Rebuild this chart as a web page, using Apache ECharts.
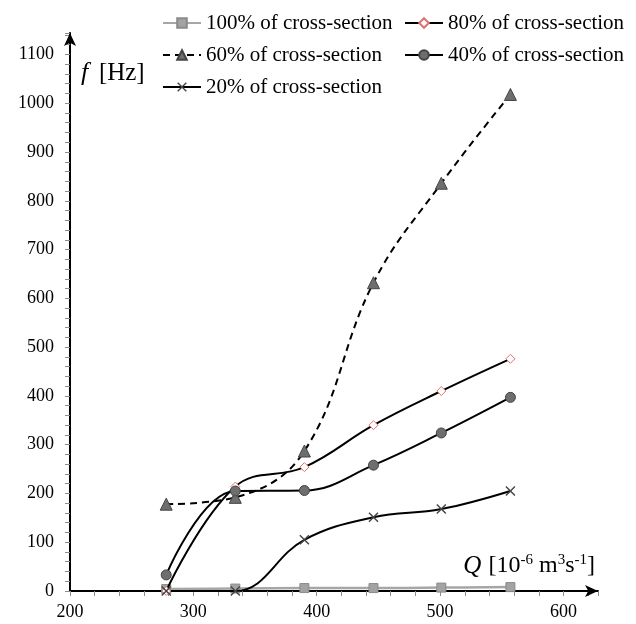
<!DOCTYPE html>
<html>
<head>
<meta charset="utf-8">
<script src="https://cdn.jsdelivr.net/npm/echarts@6/dist/echarts.min.js"></script>
<style>html,body{margin:0;padding:0;background:#fff;}#c{width:636px;height:624px;}</style>
</head>
<body>
<div id="c"></div>
<script>
const flowQ = [278, 334, 390, 446, 501, 557];
const f100 = [4, 5, 6, 6, 7, 8];
const f80 = [0, 214, 254, 340, 410, 476];
const f60 = [178, 192, 287, 632, 836, 1018];
const f40 = [33, 205, 206, 258, 324, 397];
const f20 = [0, 0, 105, 151, 168, 205];
const seriesNames = ['100% of cross-section', '80% of cross-section', '60% of cross-section', '40% of cross-section', '20% of cross-section'];

const pairs = arr => flowQ.map((q, i) => [q, arr[i]]);
const serif = 'Liberation Serif';
const xPath = 'path://M0,1 L1,0 L5,4 L9,0 L10,1 L6,5 L10,9 L9,10 L5,6 L1,10 L0,9 L4,5 Z';
const SM = 0.4;

const chart = echarts.init(document.getElementById('c'), null, {renderer: 'canvas'});
const legendBase = {
  orient: 'horizontal', padding: 0, itemWidth: 38, itemHeight: 12,
  textStyle: {fontFamily: serif, fontSize: 21, color: '#000', lineHeight: 24}
};
const axisCommon = {
  axisLine: {show: true, lineStyle: {color: '#000', width: 2}, symbol: ['none', 'arrow'], symbolSize: [9, 13]},
  axisTick: {show: true, inside: false, length: 5, lineStyle: {color: '#8c8c8c', width: 1}},
  minorTick: {show: true, splitNumber: 5, length: 5, lineStyle: {color: '#8c8c8c', width: 1}},
  splitLine: {show: false},
  minorSplitLine: {show: false}
};
chart.setOption({
  animation: false,
  backgroundColor: '#fff',
  grid: {left: 70, right: 38, top: 33, bottom: 33, containLabel: false},
  legend: [
    Object.assign({}, legendBase, {data: [seriesNames[0]], left: 162, top: 11}),
    Object.assign({}, legendBase, {data: [seriesNames[1]], left: 404, top: 11}),
    Object.assign({}, legendBase, {data: [seriesNames[2]], left: 162, top: 43}),
    Object.assign({}, legendBase, {data: [seriesNames[3]], left: 404, top: 43}),
    Object.assign({}, legendBase, {data: [seriesNames[4]], left: 162, top: 75})
  ],
  xAxis: Object.assign({
    type: 'value', min: 200, max: 628, interval: 100,
    axisLabel: {fontFamily: serif, fontSize: 18, color: '#000', margin: 12, showMaxLabel: false,
      formatter: v => (v % 100 === 0 ? String(v) : '')},
    name: '{i|Q} {n|[10}{s|-6}{n| m}{s|3}{n|s}{s|-1}{n|]}',
    nameLocation: 'end', nameGap: -3,
    nameTextStyle: {align: 'right', verticalAlign: 'bottom', padding: [0, 0, 11, 0],
      rich: {
        i: {fontFamily: serif, fontStyle: 'italic', fontSize: 25, color: '#000', lineHeight: 28, padding: [0, 4, 0, 0]},
        n: {fontFamily: serif, fontSize: 24, color: '#000', lineHeight: 28},
        s: {fontFamily: serif, fontSize: 15, color: '#000', lineHeight: 28, verticalAlign: 'top', padding: [1, 0, 0, 0]}
      }}
  }, axisCommon),
  yAxis: Object.assign({
    type: 'value', min: 0, max: 1144, interval: 100,
    axisLabel: {fontFamily: serif, fontSize: 18, color: '#000', margin: 16, showMaxLabel: false,
      formatter: v => (v % 100 === 0 ? String(v) : '')},
    name: '{i|f}  {n|[Hz]}',
    nameLocation: 'end', nameGap: -40,
    nameTextStyle: {align: 'left', verticalAlign: 'middle', padding: [0, 0, 0, 11],
      rich: {
        i: {fontFamily: serif, fontStyle: 'italic', fontSize: 26, color: '#000', padding: [0, 4, 0, 0]},
        n: {fontFamily: serif, fontSize: 25, color: '#000'}
      }}
  }, axisCommon),
  series: [
    {name: seriesNames[0], type: 'line', data: pairs(f100), smooth: SM,
      lineStyle: {color: '#a6a6a6', width: 2.5}, symbol: 'rect', symbolSize: 9,
      itemStyle: {color: '#a3a3a3', borderColor: '#8a8a8a', borderWidth: 1}, z: 2},
    {name: seriesNames[1], type: 'line', data: pairs(f80), smooth: SM,
      lineStyle: {color: '#000', width: 2}, symbol: 'diamond', symbolSize: 9, showAllSymbol: true,
      itemStyle: {color: '#fff', borderColor: '#e07070', borderWidth: 1}, z: 3},
    {name: seriesNames[2], type: 'line', data: pairs(f60), smooth: SM,
      lineStyle: {color: '#000', width: 2, type: [7, 5]}, symbol: 'triangle', symbolSize: 12,
      itemStyle: {color: '#6e6e6e', borderColor: '#444', borderWidth: 1}, z: 3},
    {name: seriesNames[3], type: 'line', data: pairs(f40), smooth: SM,
      lineStyle: {color: '#000', width: 2}, symbol: 'circle', symbolSize: 10,
      itemStyle: {color: '#6e6e6e', borderColor: '#444', borderWidth: 1}, z: 3},
    {name: seriesNames[4], type: 'line', data: pairs(f20), smooth: SM,
      lineStyle: {color: '#000', width: 2}, symbol: xPath, symbolSize: 10,
      itemStyle: {color: '#444', borderWidth: 0}, z: 3}
  ]
});
</script>
</body>
</html>
